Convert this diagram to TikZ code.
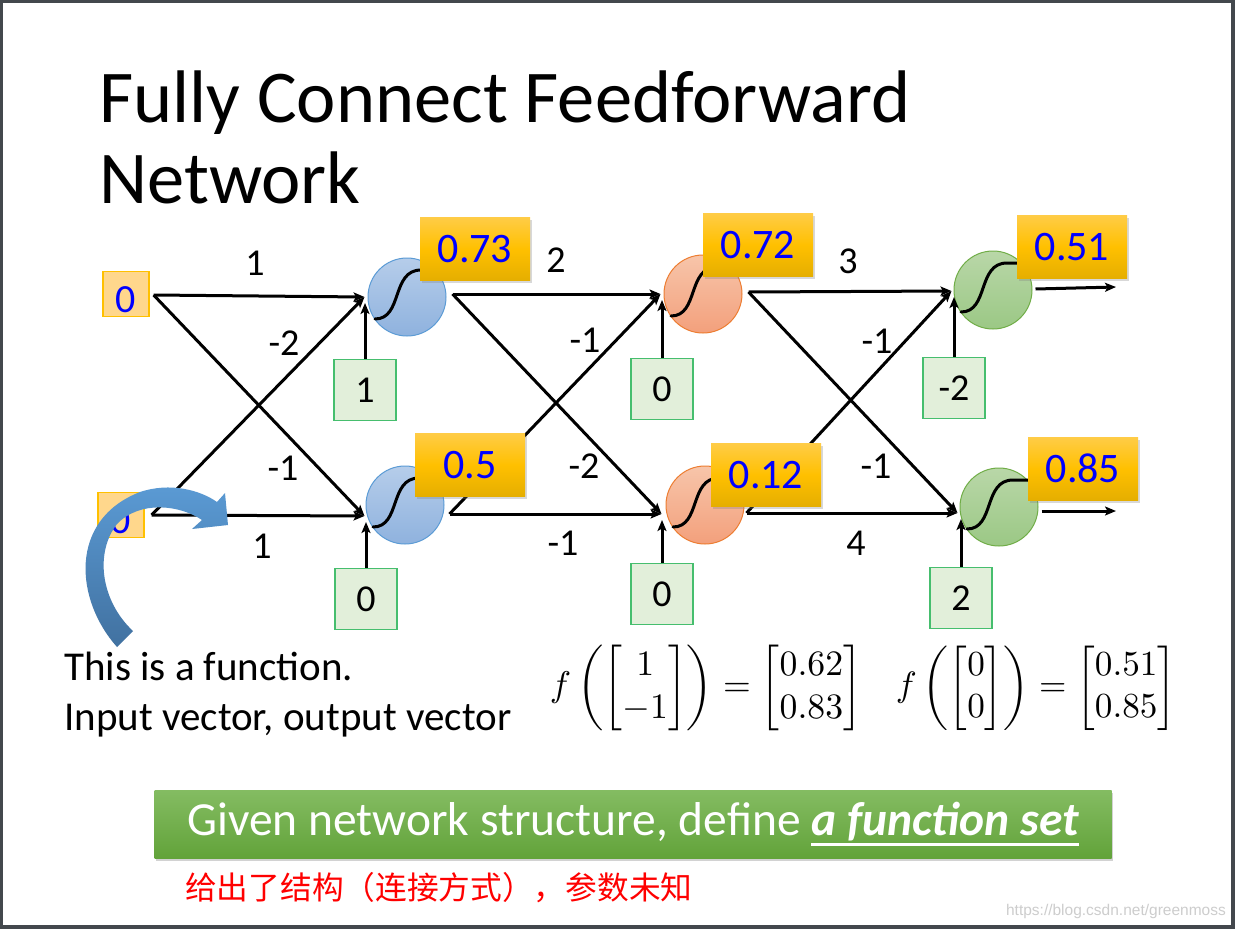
\documentclass[tikz,border=0pt]{standalone}
\usepackage{fontspec}
\usepackage{amsmath}
\usepackage{graphicx}
\setmainfont{Carlito}
\newfontfamily\cjk{Noto Sans CJK SC}
\newfontfamily\wmfont{Liberation Sans}
\usetikzlibrary{arrows.meta,shadows,calc}

\definecolor{frameC}{RGB}{67,72,77}
\definecolor{numblue}{RGB}{0,0,255}
\definecolor{goldT}{RGB}{255,204,70}
\definecolor{goldM}{RGB}{255,192,0}
\definecolor{goldB}{RGB}{229,174,0}
\definecolor{inFill}{RGB}{255,215,140}
\definecolor{inDraw}{RGB}{255,192,0}
\definecolor{biasFill}{RGB}{226,239,218}
\definecolor{biasDraw}{RGB}{70,190,110}
\definecolor{bluT}{RGB}{182,205,234}
\definecolor{bluB}{RGB}{143,178,222}
\definecolor{bluD}{RGB}{91,155,213}
\definecolor{orT}{RGB}{247,197,170}
\definecolor{orB}{RGB}{243,160,124}
\definecolor{orD}{RGB}{237,125,49}
\definecolor{grT}{RGB}{185,215,168}
\definecolor{grB}{RGB}{155,200,133}
\definecolor{grD}{RGB}{112,173,71}
\definecolor{banT}{RGB}{132,188,98}
\definecolor{banB}{RGB}{98,163,58}
\definecolor{carT}{RGB}{91,155,213}
\definecolor{carB}{RGB}{65,113,160}
\definecolor{wmC}{RGB}{205,205,205}

\newcommand\myul[1]{\setbox0\hbox{#1}\rlap{\vrule height -8pt depth 11pt width \wd0}\box0}
\newcommand\drawsig[1]{\draw[sig] ($(#1.center)+(-32,22)$) .. controls ($(#1.center)+(-4,22)$) and ($(#1.center)+(-16,-27)$) .. ($(#1.center)+(14,-27)$) -- ($(#1.center)+(32,-27)$);}

\begin{document}
\begin{tikzpicture}[x=1pt,y=-1pt,
  arr/.style={line width=3pt,-{Stealth[length=11pt,width=9pt,inset=2.5pt]}},
  sig/.style={line width=3pt,line cap=round},
  neuron/.style={circle,minimum size=78pt,inner sep=0pt,line width=1pt},
  bluen/.style={neuron,draw=bluD,top color=bluT,bottom color=bluB},
  orn/.style={neuron,draw=orD,top color=orT,bottom color=orB},
  grn/.style={neuron,draw=grD,top color=grT,bottom color=grB},
  outbox/.style={minimum width=110pt,minimum height=63pt,inner sep=0pt,
    top color=goldT,bottom color=goldB,middle color=goldM,
    drop shadow={opacity=0.3,shadow xshift=2pt,shadow yshift=-2pt},
    font=\fontsize{42}{50}\selectfont,text=numblue,text height=27pt,text depth=0pt},
  inbox/.style={minimum width=46pt,minimum height=45pt,inner sep=0pt,fill=inFill,draw=inDraw,
    line width=1.2pt,font=\fontsize{40}{48}\selectfont,text=numblue,text height=25.8pt,text depth=0pt},
  biasbox/.style={minimum width=62pt,minimum height=61pt,inner sep=0pt,fill=biasFill,draw=biasDraw,
    line width=1.2pt,font=\fontsize{38}{46}\selectfont,text height=24.5pt,text depth=0pt},
  wlab/.style={font=\fontsize{38}{46}\selectfont,inner sep=0pt,text height=24.5pt,text depth=0pt},
  banner/.style={minimum width=957pt,minimum height=68pt,inner sep=0pt,top color=banT,bottom color=banB,
    drop shadow={opacity=0.35,shadow xshift=1pt,shadow yshift=-3pt},
    text=white,font=\fontsize{47.5}{56}\selectfont}
]
% frame
\fill[frameC] (0,0) rectangle (1235,929);
\fill[white] (3,3) rectangle (1231,925);
\useasboundingbox (0,0) rectangle (1235,929);

% title
\node[anchor=base west,inner sep=0pt,font=\fontsize{74.5}{81}\selectfont] (title1) at (99,122) {Fully Connect Feedforward};
\node[anchor=base west,inner sep=0pt,font=\fontsize{74.5}{81}\selectfont] (title2) at (99,203) {Network};

% input boxes
\node[inbox] (in1) at (126,294) {\raisebox{-6pt}{0}};
\node[inbox] (in2) at (121,515) {\raisebox{-6pt}{0}};

% neurons
\node[bluen] (n11) at (407,297) {};
\node[bluen] (n12) at (405,505) {};
\node[orn] (n21) at (703,294) {};
\node[orn] (n22) at (705,505) {};
\node[grn] (n31) at (993,290) {};
\node[grn] (n32) at (999,507) {};
\drawsig{n11}\drawsig{n12}\drawsig{n21}\drawsig{n22}\drawsig{n31}\drawsig{n32}

% ports
\coordinate (in1o) at ([shift={(4,1)}]in1.east);
\coordinate (in2o) at ([shift={(7,0)}]in2.east);
\coordinate (n11i) at ([shift={(-3,0)}]n11.west);
\coordinate (n11o) at ([shift={(6,-3)}]n11.east);
\coordinate (n12i) at ([shift={(-1,11)}]n12.west);
\coordinate (n12o) at ([shift={(5,9)}]n12.east);
\coordinate (n21i) at ([shift={(-3,0)}]n21.west);
\coordinate (n21o) at ([shift={(6,-2)}]n21.east);
\coordinate (n22i) at ([shift={(-4,9)}]n22.west);
\coordinate (n22o) at ([shift={(2,8)}]n22.east);
\coordinate (n31i) at ([shift={(-2,1)}]n31.west);
\coordinate (n31o) at ([shift={(3,-1)}]n31.east);
\coordinate (n32i) at ([shift={(-2,6)}]n32.west);
\coordinate (n32o) at ([shift={(3,4)}]n32.east);
\coordinate (out1) at (1116,287);
\coordinate (out2) at (1116,511);

% edges
\draw[arr] (in1o) -- (n11i);
\draw[arr] (in1o) -- (n12i);
\draw[arr] (in2o) -- (n11i);
\draw[arr] (in2o) -- (n12i);
\draw[arr] (n11o) -- (n21i);
\draw[arr] (n11o) -- (n22i);
\draw[arr] (n12o) -- (n21i);
\draw[arr] (n12o) -- (n22i);
\draw[arr] (n21o) -- (n31i);
\draw[arr] (n21o) -- (n32i);
\draw[arr] (n22o) -- (n31i);
\draw[arr] (n22o) -- (n32i);
\draw[arr] (n31o) -- (out1);
\draw[arr] (n32o) -- (out2);

% bias boxes
\node[biasbox] (b11) at (365,390) {1};
\node[biasbox] (b12) at (366,599) {0};
\node[biasbox] (b21) at (662,389) {0};
\node[biasbox] (b22) at (662,594) {0};
\node[biasbox] (b31) at (954,388) {-2};
\node[biasbox] (b32) at (961,598) {2};
\foreach \n in {11,12,21,22,31,32}{
  \coordinate (n\n b) at ([yshift=-6pt]n\n i);
  \draw[arr] (b\n.north) -- (b\n.north |- n\n b);
}

% output boxes
\node[outbox] (o11) at (475,249) {0.73};
\node[outbox] (o12) at (470,465) {0.5};
\node[outbox] (o21) at (758,245) {0.72};
\node[outbox] (o22) at (766,475) {0.12};
\node[outbox] (o31) at (1072,247) {0.51};
\node[outbox] (o32) at (1083,469) {0.85};

% weights
\node[wlab] (w1) at (255,263) {1};
\node[wlab] (w2) at (284,343) {-2};
\node[wlab] (w3) at (283,468) {-1};
\node[wlab] (w4) at (262,546) {1};
\node[wlab] (w5) at (556,260) {2};
\node[wlab] (w6) at (585,340) {-1};
\node[wlab] (w7) at (584,466) {-2};
\node[wlab] (w8) at (563,543) {-1};
\node[wlab] (w9) at (848,261) {3};
\node[wlab] (w10) at (877,341) {-1};
\node[wlab] (w11) at (876,466) {-1};
\node[wlab] (w12) at (856,543) {4};

% curved block arrow
\shade[top color=carT,bottom color=carB]
  (117,647) .. controls (75,600) and (68,520) .. (140,492)
  .. controls (170,482) and (200,490) .. (217,502)
  -- (225,493) -- (228,525) -- (192,529) -- (202,520)
  .. controls (180,505) and (140,500) .. (117,524)
  .. controls (95,552) and (100,600) .. (133,631) -- cycle;

% texts
\node[anchor=base west,inner sep=0pt,font=\fontsize{41}{48}\selectfont] (t1) at (64,680) {This is a function.};
\node[anchor=base west,inner sep=0pt,font=\fontsize{41}{48}\selectfont] (t2) at (64,730) {Input vector, output vector};

\node[inner sep=0pt] (f1) at (706,688) {\resizebox{312pt}{!}{$f\left(\begin{bmatrix}1\\-1\end{bmatrix}\right)=\begin{bmatrix}0.62\\0.83\end{bmatrix}$}};
\node[inner sep=0pt] (f2) at (1036,688) {\resizebox{280pt}{!}{$f\left(\begin{bmatrix}0\\0\end{bmatrix}\right)=\begin{bmatrix}0.51\\0.85\end{bmatrix}$}};

\node[banner] (ban) at (633,824) {Given network structure, define \textbf{\textit{\myul{a function set}}}};

\node[anchor=west,inner sep=0pt,text=red,font=\cjk\fontsize{31.7}{36}\selectfont] (cn) at (185,888) {给出了结构（连接方式），参数未知};

\node[anchor=base east,inner sep=0pt,text=wmC,font=\wmfont\fontsize{15.5}{18}\selectfont] (wmk) at (1226,915) {https://blog.csdn.net/greenmoss};
\end{tikzpicture}
\end{document}
